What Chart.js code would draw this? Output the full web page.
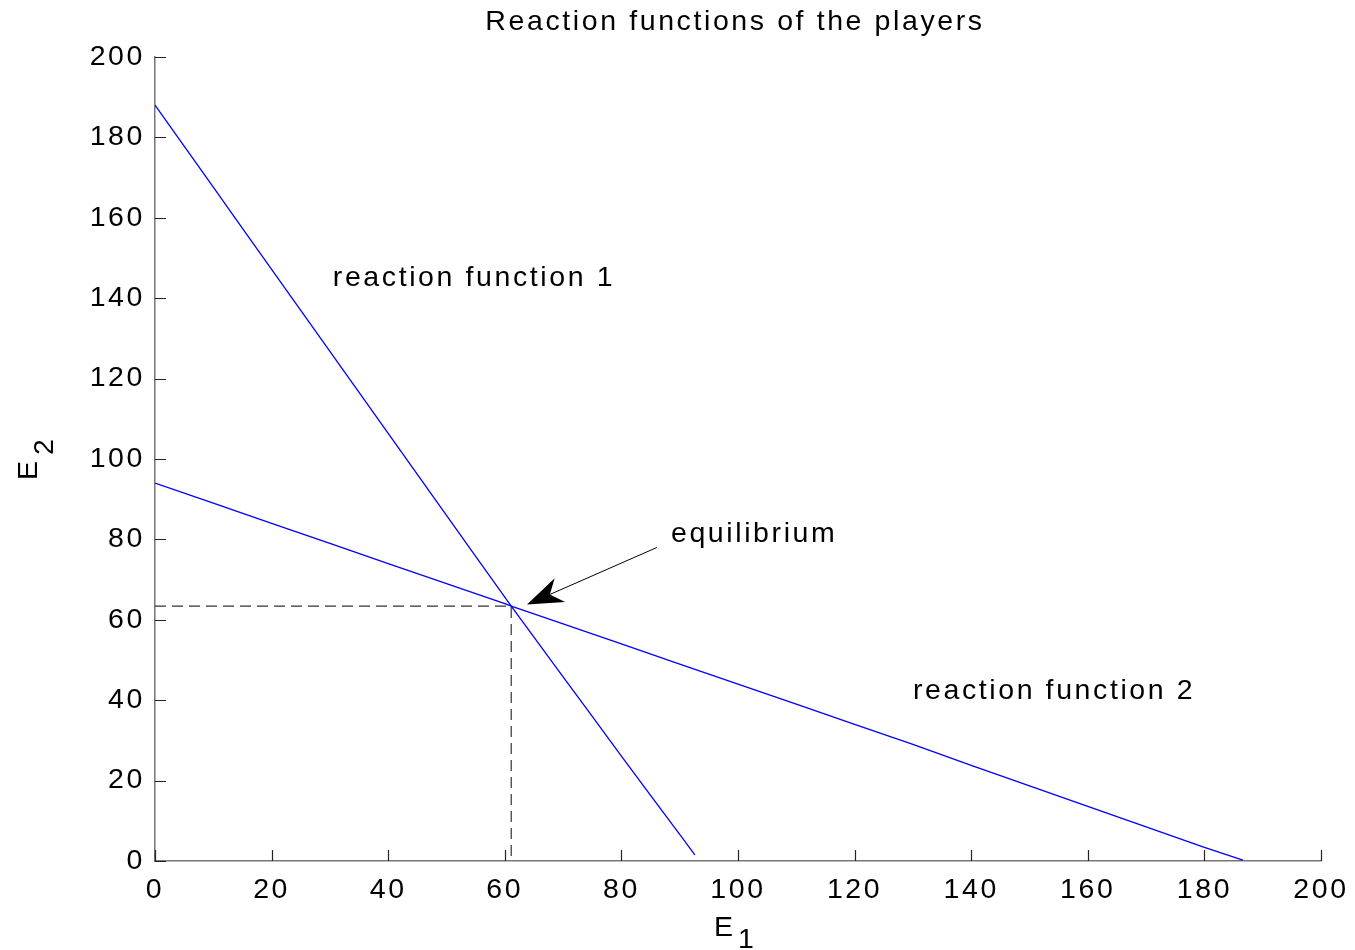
<!DOCTYPE html>
<html>
<head>
<meta charset="utf-8">
<script src="https://cdn.jsdelivr.net/npm/chart.js@4"></script>
<style>
  html, body { margin: 0; padding: 0; background: #fff; }
  #wrap { width: 1355px; height: 950px; }
</style>
</head>
<body>
<div id="wrap"><canvas id="reaction"></canvas></div>
<script>
// values
const e1Func1 = [0, 5, 10, 15, 20, 25, 30, 35, 40, 45, 50, 55, 61.1, 65, 70, 75, 80, 85, 90, 92.6];
const e2Func1 = [188, 177.8, 167.6, 157.4, 147.2, 137, 126.8, 116.6, 106.4, 96.2, 86, 75.8, 63.4, 55.7, 45.8, 36, 26.1, 16.3, 6.6, 1.5];

const e1Func2 = [0, 10, 20, 30, 40, 50, 60, 61.1, 70, 80, 90, 100, 110, 120, 130, 140, 150, 160, 170, 180, 186.6];
const e2Func2 = [94, 89, 84, 79, 74, 69, 64, 63.4, 59, 54, 49, 44, 39, 34, 29, 23.8, 18.7, 13.6, 8.5, 3.4, 0.2];

const eqPoint = { x: 61.1, y: 63.4 };
const tickValues = [0, 20, 40, 60, 80, 100, 120, 140, 160, 180, 200];

const labels = [
    { text: 'reaction function 1', x: 30.5, y: 145 },
    { text: 'reaction function 2', x: 130, y: 42.3 },
    { text: 'equilibrium', x: 88.5, y: 81.4 }
];
const arrowFrom = { x: 86.1, y: 78 };
const arrowTo = { x: 63.8, y: 63.8 };

const FAMILY = '"Liberation Sans", Arial, sans-serif';
const FONT = '28.5px ' + FAMILY;
const SPACING = '2.6px';

function toPoints(xs, ys) {
    return xs.map((x, i) => ({ x: x, y: ys[i] }));
}

// spacing like the matlab text rendering
const spacingPlugin = {
    id: 'spacing',
    beforeLayout(chart) { chart.ctx.letterSpacing = SPACING; },
    beforeDraw(chart) { chart.ctx.letterSpacing = SPACING; }
};

// ticks point inwards, plus title, axis labels and annotations
const extrasPlugin = {
    id: 'extras',
    afterDraw(chart) {
        const ctx = chart.ctx;
        const xs = chart.scales.x, ys = chart.scales.y;
        const area = chart.chartArea;
        ctx.save();
        ctx.letterSpacing = SPACING;

        ctx.strokeStyle = '#222';
        ctx.lineWidth = 1.2;
        ctx.beginPath();
        tickValues.forEach(v => {
            const px = Math.round(xs.getPixelForValue(v)) + 0.5;
            ctx.moveTo(px, area.bottom);
            ctx.lineTo(px, area.bottom - 11);
            const py = Math.round(ys.getPixelForValue(v)) + 0.5;
            ctx.moveTo(area.left, py);
            ctx.lineTo(area.left + 11, py);
        });
        ctx.stroke();

        ctx.fillStyle = '#000';
        ctx.font = FONT;
        ctx.textBaseline = 'middle';

        ctx.textAlign = 'center';
        ctx.fillText('Reaction functions of the players', 735, 22);

        ctx.textAlign = 'left';
        labels.forEach(l => {
            ctx.fillText(l.text, xs.getPixelForValue(l.x), ys.getPixelForValue(l.y));
        });

        // x label E1
        ctx.fillText('E', 714, 928);
        ctx.fillText('1', 738, 940);

        // y label E2, rotated
        ctx.save();
        ctx.translate(29, 480);
        ctx.rotate(-Math.PI / 2);
        ctx.fillText('E', 0, 0);
        ctx.fillText('2', 25, 16);
        ctx.restore();

        // arrow to the equilibrium
        const x0 = xs.getPixelForValue(arrowFrom.x), y0 = ys.getPixelForValue(arrowFrom.y);
        const x1 = xs.getPixelForValue(arrowTo.x), y1 = ys.getPixelForValue(arrowTo.y);
        const len = Math.hypot(x1 - x0, y1 - y0);
        const ux = (x1 - x0) / len, uy = (y1 - y0) / len;
        const nx = -uy, ny = ux;
        ctx.strokeStyle = '#000';
        ctx.lineWidth = 1;
        ctx.beginPath();
        ctx.moveTo(x0, y0);
        ctx.lineTo(x1 - ux * 25, y1 - uy * 25);
        ctx.stroke();
        ctx.beginPath();
        ctx.moveTo(x1, y1);
        ctx.lineTo(x1 - ux * 36 + nx * 13, y1 - uy * 36 + ny * 13);
        ctx.lineTo(x1 - ux * 25, y1 - uy * 25);
        ctx.lineTo(x1 - ux * 36 - nx * 13, y1 - uy * 36 - ny * 13);
        ctx.closePath();
        ctx.fill();

        ctx.restore();
    }
};

new Chart(document.getElementById('reaction'), {
    type: 'scatter',
    data: {
        datasets: [
            {
                data: toPoints(e1Func1, e2Func1),
                showLine: true,
                borderColor: '#0000ff',
                borderWidth: 1.3,
                pointRadius: 0
            },
            {
                data: toPoints(e1Func2, e2Func2),
                showLine: true,
                borderColor: '#0000ff',
                borderWidth: 1.3,
                pointRadius: 0
            },
            {
                data: [{ x: 0, y: eqPoint.y }, { x: eqPoint.x, y: eqPoint.y }, { x: eqPoint.x, y: 0 }],
                showLine: true,
                borderColor: '#333',
                borderWidth: 1.2,
                borderDash: [11, 6],
                pointRadius: 0
            }
        ]
    },
    options: {
        responsive: true,
        maintainAspectRatio: false,
        animation: false,
        layout: { padding: { top: 57, right: 34, left: 0, bottom: 0 } },
        plugins: {
            legend: { display: false },
            title: { display: false },
            tooltip: { enabled: false }
        },
        scales: {
            x: {
                type: 'linear',
                min: 0,
                max: 200,
                afterFit: s => { s.height = 89; s.paddingLeft = 0; s.paddingRight = 0; },
                grid: { display: false, drawTicks: false },
                border: { display: true, color: '#777', width: 1.5 },
                ticks: {
                    stepSize: 20,
                    padding: 12,
                    color: '#000',
                    font: { family: FAMILY, size: 28.5 },
                    maxRotation: 0
                }
            },
            y: {
                type: 'linear',
                min: 0,
                max: 200,
                afterFit: s => { s.width = 155; s.paddingTop = 0; s.paddingBottom = 0; },
                grid: { display: false, drawTicks: false },
                border: { display: true, color: '#777', width: 1.5 },
                ticks: {
                    stepSize: 20,
                    padding: 10,
                    color: '#000',
                    font: { family: FAMILY, size: 28.5 }
                }
            }
        }
    },
    plugins: [spacingPlugin, extrasPlugin]
});
</script>
</body>
</html>
